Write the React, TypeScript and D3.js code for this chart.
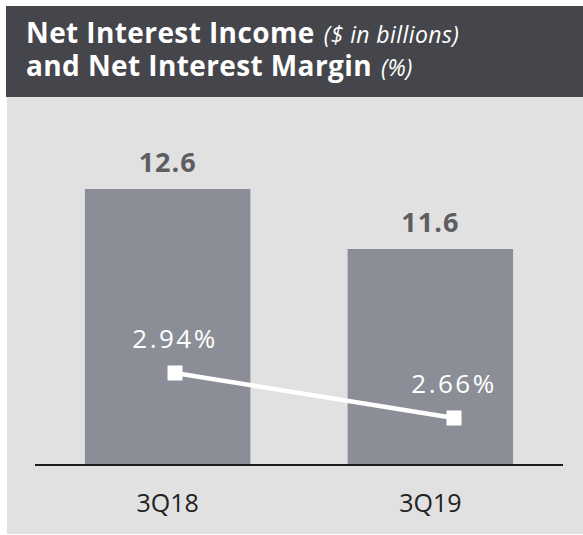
import React from 'react';
import { scaleBand, scaleLinear, scalePoint, line } from 'd3';

const categories = ['3Q18', '3Q19'];
const incomeValues = [12.6, 11.6];
const marginValues = [2.94, 2.66];
const incomeLabels = ['12.6', '11.6'];
const marginLabels = ['2.94%', '2.66%'];

const W = 583;
const H = 535;
const HEADER_BG = '#45464b';
const PANEL_BG = '#e1e1e1';
const BAR = '#8b8e96';
const FONT = '"Open Sans", "Noto Sans", sans-serif';

export default function App() {
  // bars: the chart is not zero-based, the base sits at 8
  const x = scaleBand().domain(categories).range([35, 563]).paddingInner(0.37).paddingOuter(0.19);
  const yBar = scaleLinear().domain([8, 12.6]).range([465, 189]);

  // margin line has its own x and y
  const xLine = scalePoint().domain(categories).range([175, 454]);
  const yLine = scaleLinear().domain([2.66, 2.94]).range([418, 373]);

  const pts = categories.map((c, i) => ({ c, v: marginValues[i] }));
  const linePath = line<{ c: string; v: number }>()
    .x((d) => xLine(d.c) as number)
    .y((d) => yLine(d.v))(pts);

  const baseY = yBar(8);
  const [r0, r1] = x.range();

  return (
    <div style={{ position: 'absolute', left: 0, top: 0 }}>
      <svg width={W} height={H} style={{ display: 'block' }}>
        <rect x={0} y={0} width={W} height={H} fill="#ffffff" />
        <rect x={6} y={6} width={W - 6} height={91} fill={HEADER_BG} />
        <rect x={7} y={97} width={W - 7} height={437} fill={PANEL_BG} />

        {/* two-line title in one text element */}
        <text x={26} y={43} fontFamily={FONT} fill="#ffffff">
          <tspan fontSize={28} fontWeight={700} letterSpacing={0.4}>Net Interest Income</tspan>
          <tspan fontSize={23} fontStyle="italic" dx={9} letterSpacing={0.4}>($ in billions)</tspan>
          <tspan x={26} dy={33} fontSize={28} fontWeight={700} letterSpacing={0.4}>and Net Interest Margin</tspan>
          <tspan fontSize={23} fontStyle="italic" dx={9}>(%)</tspan>
        </text>

        {categories.map((c, i) => (
          <g key={c}>
            <rect
              x={x(c)}
              y={yBar(incomeValues[i])}
              width={x.bandwidth()}
              height={baseY - yBar(incomeValues[i])}
              fill={BAR}
            />
            <text
              x={(x(c) as number) + x.bandwidth() / 2}
              y={yBar(incomeValues[i]) - 17}
              textAnchor="middle"
              fontFamily={FONT}
              fontWeight={700}
              fontSize={27}
              letterSpacing={1}
              fill="#5d5e62"
            >
              {incomeLabels[i]}
            </text>
            <text
              x={(x(c) as number) + x.bandwidth() / 2}
              y={baseY + 47}
              textAnchor="middle"
              fontFamily={FONT}
              fontSize={25}
              fill="#222222"
            >
              {c}
            </text>
          </g>
        ))}

        <line x1={r0} x2={r1} y1={baseY} y2={baseY} stroke="#1e1e1e" strokeWidth={2} />

        <path d={linePath ?? ''} fill="none" stroke="#ffffff" strokeWidth={4.5} />
        {pts.map((d, i) => (
          <g key={d.c}>
            <rect
              x={(xLine(d.c) as number) - 7.5}
              y={yLine(d.v) - 7.5}
              width={15}
              height={15}
              fill="#ffffff"
            />
            <text
              x={xLine(d.c)}
              y={yLine(d.v) - 25}
              textAnchor="middle"
              fontFamily={FONT}
              fontSize={26}
              letterSpacing={2.5}
              fill="#ffffff"
            >
              {marginLabels[i]}
            </text>
          </g>
        ))}
      </svg>
    </div>
  );
}
